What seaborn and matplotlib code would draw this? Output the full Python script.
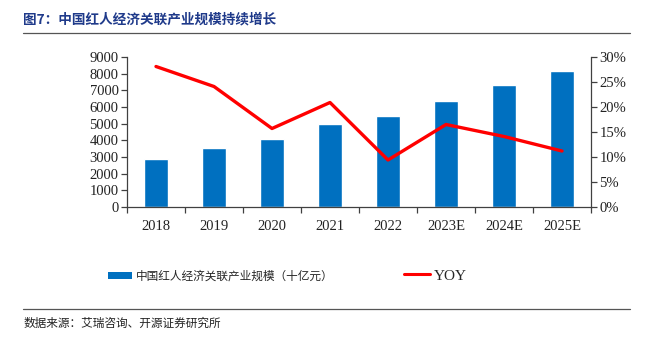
import matplotlib
matplotlib.use("Agg")
import matplotlib.pyplot as plt
import seaborn as sns
import numpy as np
import pandas as pd
from matplotlib.lines import Line2D
from matplotlib.patches import Patch
from matplotlib.ticker import FuncFormatter

# Data
years = ["2018", "2019", "2020", "2021", "2022", "2023E", "2024E", "2025E"]
scale = [2860, 3540, 4100, 4980, 5460, 6380, 7320, 8140]          # 十亿元
yoy = [28.1, 24.1, 15.7, 20.9, 9.4, 16.5, 14.1, 11.2]              # %

bar_label = "中国红人经济关联产业规模（十亿元）"
line_label = "YOY"
title = "图7：中国红人经济关联产业规模持续增长"
source = "数据来源：艾瑞咨询、开源证券研究所"

sns.set_theme(style="white")
cjk = ["Noto Sans CJK SC", "DejaVu Sans"]
serif = ["Liberation Serif", "DejaVu Serif"]
plt.rcParams["font.family"] = cjk

df = pd.DataFrame({"year": years, "scale": scale, "yoy": yoy})

fig = plt.figure(figsize=(6.53, 3.42), dpi=100)
ax = fig.add_axes([127 / 653, 1 - 207 / 342, (591 - 127) / 653, 150 / 342])

sns.barplot(data=df, x="year", y="scale", color="#0070C0", width=0.4,
            saturation=1, ax=ax)
ax.set_xlim(-0.5, len(years) - 0.5)
ax.set_ylim(0, 9000)
ax.set_yticks(np.arange(0, 9001, 1000))

ax2 = ax.twinx()
sns.lineplot(data=df, x="year", y="yoy", color="#FF0000", linewidth=2.4,
             ax=ax2, sort=False)
ax2.set_ylim(0, 30)
ax2.set_yticks(np.arange(0, 31, 5))
ax2.yaxis.set_major_formatter(FuncFormatter(lambda v, p: f"{v:.0f}%"))
ax2.set_xlim(-0.5, len(years) - 0.5)

for a in (ax, ax2):
    a.set_xlabel("")
    a.set_ylabel("")
    a.grid(False)
    for s in a.spines.values():
        s.set_visible(False)

ax.spines["left"].set_visible(True)
ax.spines["bottom"].set_visible(True)
ax2.spines["right"].set_visible(True)
for s in (ax.spines["left"], ax.spines["bottom"], ax2.spines["right"]):
    s.set_color("#404040")
    s.set_linewidth(0.9)

# category boundary ticks on x axis
ax.set_xticks(np.arange(len(years)))
ax.set_xticklabels(years)
ax.set_xticks(np.arange(-0.5, len(years), 1), minor=True)
ax.tick_params(axis="x", which="major", length=0, pad=9)
ax.tick_params(axis="x", which="minor", length=4, width=0.9, color="#404040",
               direction="out", bottom=True)
ax.tick_params(axis="y", left=True, length=4, width=0.9, color="#404040",
               direction="out", pad=2)
ax2.tick_params(axis="y", right=True, length=4, width=0.9, color="#404040",
                direction="out", pad=2)

for lab in ax.get_xticklabels() + ax.get_yticklabels() + ax2.get_yticklabels():
    lab.set_fontfamily(serif)
    lab.set_fontsize(10.5)
    lab.set_color("#222222")

# Title and rules
fig.text(23 / 653, 1 - 19 / 342, title, fontsize=9.8, fontweight="bold",
         color="#1F3A8A", ha="left", va="center", family=cjk)
fig.add_artist(Line2D([23 / 653, 630 / 653], [1 - 33 / 342] * 2,
                      color="#555555", linewidth=0.9))
fig.add_artist(Line2D([23 / 653, 630 / 653], [1 - 309 / 342] * 2,
                      color="#555555", linewidth=0.9))
fig.text(23 / 653, 1 - 323 / 342, source, fontsize=8.4, color="#222222",
         ha="left", va="center", family=cjk)

# Legend
h1 = Patch(facecolor="#0070C0", edgecolor="none")
fig.legend([h1], [bar_label], loc="center left",
           bbox_to_anchor=(97 / 653, 1 - 276 / 342), frameon=False,
           handlelength=2.1, handleheight=0.55, handletextpad=0.35,
           prop={"family": cjk, "size": 8.4})
h2 = Line2D([0], [0], color="#FF0000", linewidth=2.2)
fig.legend([h2], [line_label], loc="center left",
           bbox_to_anchor=(390 / 653, 1 - 276 / 342), frameon=False,
           handlelength=1.75, handletextpad=0.25,
           prop={"family": serif, "size": 11})

fig.savefig("out.png", dpi=100)
